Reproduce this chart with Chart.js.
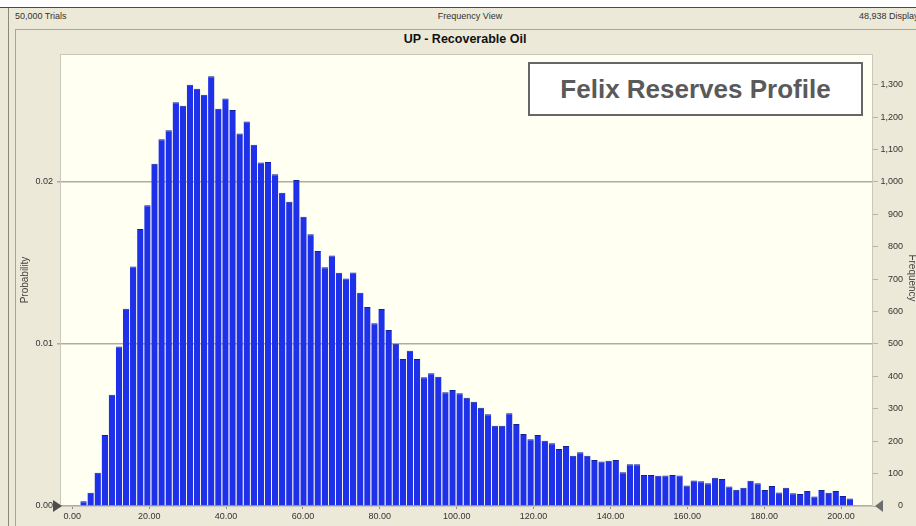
<!DOCTYPE html>
<html>
<head>
<meta charset="utf-8">
<script src="https://cdn.jsdelivr.net/npm/chart.js@4/dist/chart.umd.min.js"></script>
<style>
html,body{margin:0;padding:0;background:#fff;}
#wrap{position:relative;width:916px;height:526px;overflow:hidden;background:#ece9d8;font-family:"Liberation Sans",Arial,sans-serif;}
#topstrip{position:absolute;left:0;top:0;width:916px;height:7px;background:#fff;border-bottom:1px solid #4a4a4a;}
#outerL{position:absolute;left:8px;top:8px;width:1px;height:518px;background:#8a887c;}
#panel{position:absolute;left:15px;top:29px;width:910px;height:510px;border-left:1px solid #a8a698;border-top:1px solid #a8a698;}
.hdr{position:absolute;top:11px;font-size:9px;line-height:11px;color:#333;white-space:nowrap;}
#title{position:absolute;left:315px;width:300px;text-align:center;top:32px;font-weight:bold;font-size:12.5px;line-height:15px;color:#111;}
#legendBox{position:absolute;left:528px;top:62px;width:331px;height:50px;background:#fff;border:2px solid #666;text-align:center;line-height:50px;font-weight:bold;font-size:26px;color:#5a5a5a;z-index:5;white-space:nowrap;}
#freqTitle{position:absolute;left:872px;top:272px;width:80px;height:12px;line-height:12px;text-align:center;font-size:10px;color:#444;transform:rotate(90deg);transform-origin:40px 6px;z-index:5;white-space:nowrap;}
#c{position:absolute;left:0;top:0;z-index:2;}
</style>
</head>
<body>
<div id="wrap">
  <div id="topstrip"></div>
  <div id="outerL"></div>
  <div id="panel"></div>
  <div class="hdr" style="left:15px;">50,000 Trials</div>
  <div class="hdr" style="left:420px;width:100px;text-align:center;">Frequency View</div>
  <div class="hdr" style="left:859px;">48,938 Displayed</div>
  <div id="title">UP - Recoverable Oil</div>
  <canvas id="c" width="916" height="526"></canvas>
  <div id="legendBox">Felix Reserves Profile</div>
  <div id="freqTitle">Frequency</div>
</div>
<script>
// Histogram bins (x in data units)
const binStart = 2.0;
const binWidth = 1.846;
// Frequency count of each bin
const frequency = [
  15, 41, 103, 219, 343, 492, 609, 739, 855, 928,
  1056, 1132, 1160, 1246, 1235, 1300, 1288, 1269, 1326, 1226,
  1258, 1222, 1150, 1187, 1115, 1060, 1062, 1024, 967, 939,
  1006, 893, 839, 787, 737, 773, 720, 702, 721, 658,
  614, 564, 608, 543, 501, 454, 479, 454, 397, 410,
  399, 351, 358, 348, 334, 322, 303, 283, 248, 248,
  286, 253, 222, 206, 219, 201, 194, 176, 185, 155,
  166, 155, 142, 137, 140, 142, 104, 129, 129, 96,
  96, 93, 94, 96, 94, 63, 79, 76, 70, 87,
  83, 60, 50, 56, 78, 70, 49, 62, 42, 56,
  39, 37, 46, 29, 49, 41, 46, 31, 23
];
// Tick values
const xTicks = [0, 20, 40, 60, 80, 100, 120, 140, 160, 180, 200];
const probTicks = [0, 0.01, 0.02];
const freqTicks = [0, 100, 200, 300, 400, 500, 600, 700, 800, 900, 1000, 1100, 1200, 1300];
// Axis ranges
const xRange = [-3.2, 208.3];
const freqMax = 1395;
const trialsScale = 50000;          // frequency -> probability

const points = frequency.map((f, i) => ({ x: binStart + (i + 0.5) * binWidth, y: f }));

const FONT = "'Liberation Sans', Arial, sans-serif";

const framePlugin = {
  id: 'frame',
  beforeDraw(chart) {
    const { ctx, chartArea: a } = chart;
    ctx.save();
    ctx.fillStyle = '#fffff2';
    ctx.fillRect(a.left, a.top, a.right - a.left, a.bottom - a.top);
    ctx.restore();
  },
  beforeDatasetsDraw(chart) {
    const { ctx, chartArea: a } = chart;
    ctx.save();
    ctx.strokeStyle = '#c9c8ba';
    ctx.lineWidth = 1;
    ctx.strokeRect(a.left + 0.5, a.top + 0.5, a.right - a.left - 1, a.bottom - a.top);
    ctx.restore();
  },
  afterDraw(chart) {
    const { ctx, chartArea: a } = chart;
    ctx.save();
    ctx.fillStyle = '#4d4d4d';
    ctx.beginPath();
    ctx.moveTo(a.left + 2, a.bottom);
    ctx.lineTo(a.left - 7, a.bottom - 6);
    ctx.lineTo(a.left - 7, a.bottom + 6);
    ctx.closePath();
    ctx.fill();
    ctx.fillStyle = '#6e6e6e';
    ctx.beginPath();
    ctx.moveTo(a.right + 2, a.bottom);
    ctx.lineTo(a.right + 10, a.bottom - 6);
    ctx.lineTo(a.right + 10, a.bottom + 6);
    ctx.closePath();
    ctx.fill();
    ctx.restore();
  }
};

const setTicks = vals => s => { s.ticks = vals.map(v => ({ value: v })); };

new Chart(document.getElementById('c'), {
  type: 'bar',
  data: {
    datasets: [{
      label: 'Frequency',
      data: points,
      xAxisID: 'x',
      yAxisID: 'y2',
      backgroundColor: '#1e31e8',
      borderColor: '#11218f',
      borderWidth: { top: 1, left: 0, right: 0, bottom: 0 },
      borderSkipped: 'start',
      barPercentage: 0.9,
      categoryPercentage: 1.0
    }]
  },
  options: {
    responsive: false,
    animation: false,
    layout: { padding: { top: 54, left: 0, right: 13, bottom: 0 } },
    plugins: { legend: { display: false }, tooltip: { enabled: false }, title: { display: false } },
    scales: {
      x: {
        type: 'linear',
        position: 'bottom',
        min: xRange[0],
        max: xRange[1],
        offset: false,
        afterBuildTicks: setTicks(xTicks),
        grid: { offset: false, drawOnChartArea: false, tickLength: 3, color: '#8c8c8c' },
        border: { color: '#9a9a9a' },
        ticks: {
          autoSkip: false,
          maxRotation: 0,
          padding: 2,
          color: '#333',
          font: { family: FONT, size: 9 },
          callback: v => Number(v).toFixed(2)
        },
        afterFit: s => { s.height = 20; }
      },
      y: {
        type: 'linear',
        position: 'left',
        min: 0,
        max: freqMax / trialsScale,
        afterBuildTicks: setTicks(probTicks),
        grid: { color: '#aeada2', lineWidth: 1.5, tickLength: 3 },
        border: { display: false },
        ticks: {
          padding: 4,
          color: '#333',
          font: { family: FONT, size: 9 },
          callback: v => Number(v).toFixed(2)
        },
        title: {
          display: true,
          text: 'Probability',
          color: '#444',
          font: { family: FONT, size: 10 },
          padding: { top: 19, bottom: 0 }
        },
        afterFit: s => { s.width = 60; }
      },
      y2: {
        type: 'linear',
        position: 'right',
        min: 0,
        max: freqMax,
        afterBuildTicks: setTicks(freqTicks),
        grid: { drawOnChartArea: false, tickLength: 5, color: '#b5b4a8' },
        border: { display: false },
        ticks: {
          autoSkip: false,
          crossAlign: 'far',
          padding: 3,
          color: '#333',
          font: { family: FONT, size: 9 },
          callback: v => Number(v).toLocaleString('en-US')
        },
        title: { display: false },
        afterFit: s => { s.width = 30; }
      }
    }
  },
  plugins: [framePlugin]
});
</script>
</body>
</html>
